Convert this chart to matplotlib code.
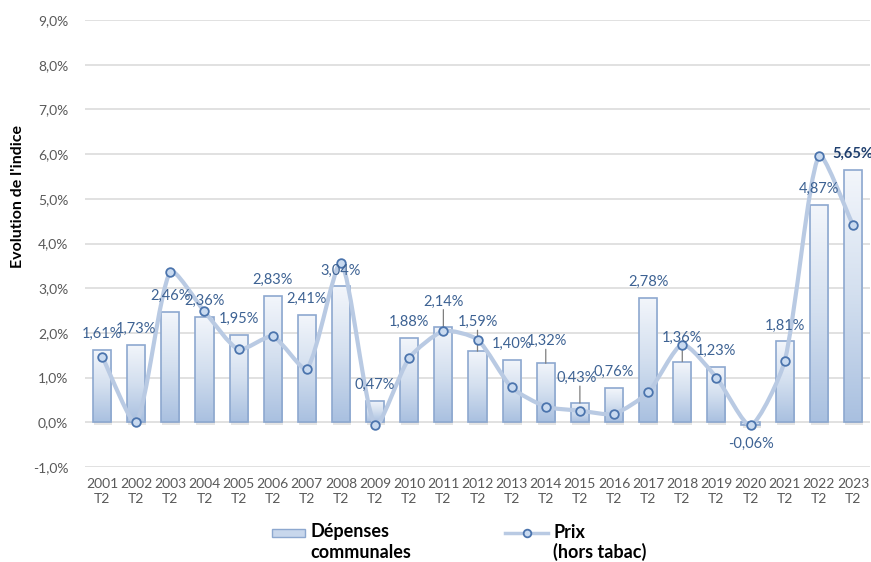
import numpy as np
import matplotlib
matplotlib.use("Agg")
import matplotlib.pyplot as plt
from matplotlib.patches import Rectangle, PathPatch
from matplotlib.path import Path
from matplotlib.lines import Line2D

# --- data -------------------------------------------------------------
annees = [2001, 2002, 2003, 2004, 2005, 2006, 2007, 2008, 2009, 2010, 2011, 2012,
          2013, 2014, 2015, 2016, 2017, 2018, 2019, 2020, 2021, 2022, 2023]
trimestre = "T2"
depenses = [1.61, 1.73, 2.46, 2.36, 1.95, 2.83, 2.41, 3.04, 0.47, 1.88, 2.14, 1.59,
            1.40, 1.32, 0.43, 0.76, 2.78, 1.36, 1.23, -0.06, 1.81, 4.87, 5.65]
prix = [1.47, 0.00, 3.37, 2.48, 1.63, 1.92, 1.20, 3.57, -0.07, 1.44, 2.04, 1.85,
        0.78, 0.35, 0.26, 0.19, 0.67, 1.74, 1.00, -0.07, 1.37, 5.96, 4.42]
y_ticks = [-1, 0, 1, 2, 3, 4, 5, 6, 7, 8, 9]

# --- style -------------------------------------------------------------
FONT = "Lato"
W, H = 871, 562
LABEL_COL = "#3D6293"
LINE_COL = "#B9CAE3"
BAR_EDGE = "#8DA8CF"
GRID_COL = "#D9D9D9"
TICK_COL = "#595959"

# label displacement in pixels (dx, dy above bar end), leader lines where moved
label_shift = {2011: (0, 25), 2012: (0, 29), 2014: (1, 22), 2015: (-3, 25), 2018: (0, 24)}

plt.rcParams["font.family"] = [FONT, "DejaVu Sans"]

fig = plt.figure(figsize=(W / 100, H / 100), dpi=100)
fig.patch.set_facecolor("white")


def fx(px):
    return px / W


def fy(py):
    return 1 - py / H


ax = fig.add_axes([fx(85), fy(467), fx(870) - fx(85), fy(20) - fy(467)])
ax.set_xlim(-0.5, len(annees) - 0.5)
ax.set_ylim(-1, 9)
for s in ax.spines.values():
    s.set_visible(False)

ax.set_yticks(y_ticks)
ax.set_yticklabels([f"{v:.1f}%".replace(".", ",") for v in y_ticks])
ax.yaxis.grid(True, color=GRID_COL, lw=1.1)
ax.set_axisbelow(True)
x = np.arange(len(annees))
ax.set_xticks(x)
ax.set_xticklabels([f"{a}\n{trimestre}" for a in annees], linespacing=1.25)
ax.tick_params(axis="both", length=0, colors=TICK_COL, labelsize=10)
ax.tick_params(axis="y", pad=12)
ax.tick_params(axis="x", pad=8)

# --- bars with vertical gradient ------------------------------------------
bw = 0.53
grad = np.linspace(0, 1, 256).reshape(-1, 1)
cmap = matplotlib.colors.LinearSegmentedColormap.from_list(
    "barfill", ["#F3F6FB", "#D3DFEF", "#A9C0E0"])
bars = ax.bar(x, depenses, width=bw, facecolor="none", edgecolor=BAR_EDGE, lw=1.2, zorder=3)
for rect, v in zip(bars, depenses):
    x0 = rect.get_x()
    lo, hi = min(0, v), max(0, v)
    # soft shadow
    ax.add_patch(Rectangle((x0 + 0.03, lo - 0.06), bw, hi - lo, facecolor="#000000",
                           alpha=0.10, edgecolor="none", zorder=2))
    im = ax.imshow(grad, extent=[x0, x0 + bw, lo, hi], aspect="auto", cmap=cmap,
                   origin="upper", zorder=2.5)
    im.set_clip_path(rect)


# --- smoothed price line ----------------------------------------------
def smooth_path(xs, ys, sx, sy, f=0.22):
    """Bezier smoothing in screen space; tangents weighted by segment lengths."""
    P = np.column_stack([np.asarray(xs, float) * sx, np.asarray(ys, float) * sy])
    n = len(P)
    outs, ins = [], []
    for i in range(n):
        a = P[i - 1] if i > 0 else P[i]
        b = P[i + 1] if i < n - 1 else P[i]
        T = b - a
        dp = np.hypot(*(P[i] - a))
        dn = np.hypot(*(b - P[i]))
        tot = dp + dn if dp + dn > 0 else 1
        outs.append(P[i] + T * f * dn / tot)
        ins.append(P[i] - T * f * dp / tot)
    verts = [P[0]]
    codes = [Path.MOVETO]
    for i in range(n - 1):
        verts += [outs[i], ins[i + 1], P[i + 1]]
        codes += [Path.CURVE4] * 3
    verts = np.array(verts) / [sx, sy]
    return Path(verts, codes)


px_x = ax.get_position().width * W / (len(annees))
px_y = ax.get_position().height * H / 10
ax.add_patch(PathPatch(smooth_path(x, prix, px_x, px_y), fill=False, edgecolor=LINE_COL,
                       lw=3.0, capstyle="round", joinstyle="round", zorder=5))
ax.plot(x, prix, "o", ms=6.2, mfc="#C9DAF0", mec="#4B74AD", mew=1.3, zorder=6)

# --- value labels ------------------------------------------------------
for xi, a, v in zip(x, annees, depenses):
    dx, dy = label_shift.get(a, (0, 16))
    if v < 0:
        dy = -19
    bold = a == annees[-1]
    ax.annotate(f"{v:.2f}%".replace(".", ","), (xi, v),
                xytext=(dx * 0.72, dy * 0.72), textcoords="offset points",
                ha="center", va="center", fontsize=10.5,
                color="#1F3F6E" if bold else LABEL_COL,
                fontweight="bold" if bold else "normal", zorder=7,
                annotation_clip=False)
    if a in label_shift:
        ax.annotate("", (xi, v), xytext=(0, (dy - 8) * 0.72), textcoords="offset points",
                    arrowprops=dict(arrowstyle="-", color="#7F7F7F", lw=0.9,
                                    shrinkA=0, shrinkB=0), zorder=4)

# --- axis title ------------------------------------------------------------
fig.text(fx(18), fy(196), "Evolution de l'indice", rotation=90, ha="center", va="center",
         fontsize=11.5, fontweight="bold", color="black")

# --- legend ------------------------------------------------------------------
LEG_FS = 13
leg_patch = Rectangle((fx(272), fy(537)), fx(305) - fx(272), fy(529) - fy(537),
                      transform=fig.transFigure, facecolor="#C8D7EC", edgecolor=BAR_EDGE, lw=1)
fig.patches.append(leg_patch)
fig.text(fx(310), fy(532), "Dépenses", ha="left", va="center", fontsize=LEG_FS,
         fontweight="bold", color="black")
fig.text(fx(310), fy(552), "communales", ha="left", va="center", fontsize=LEG_FS,
         fontweight="bold", color="black")
fig.lines.append(Line2D([fx(505), fx(548)], [fy(533), fy(533)], transform=fig.transFigure,
                        color=LINE_COL, lw=2.5))
fig.lines.append(Line2D([fx(527)], [fy(533)], transform=fig.transFigure, marker="o",
                        ms=5.5, mfc="#C9DAF0", mec="#4B74AD", mew=1.3))
fig.text(fx(553), fy(532), "Prix", ha="left", va="center", fontsize=LEG_FS,
         fontweight="bold", color="black")
fig.text(fx(553), fy(552), "(hors tabac)", ha="left", va="center", fontsize=LEG_FS,
         fontweight="bold", color="black")

fig.savefig("out.png", dpi=100, facecolor="white")
